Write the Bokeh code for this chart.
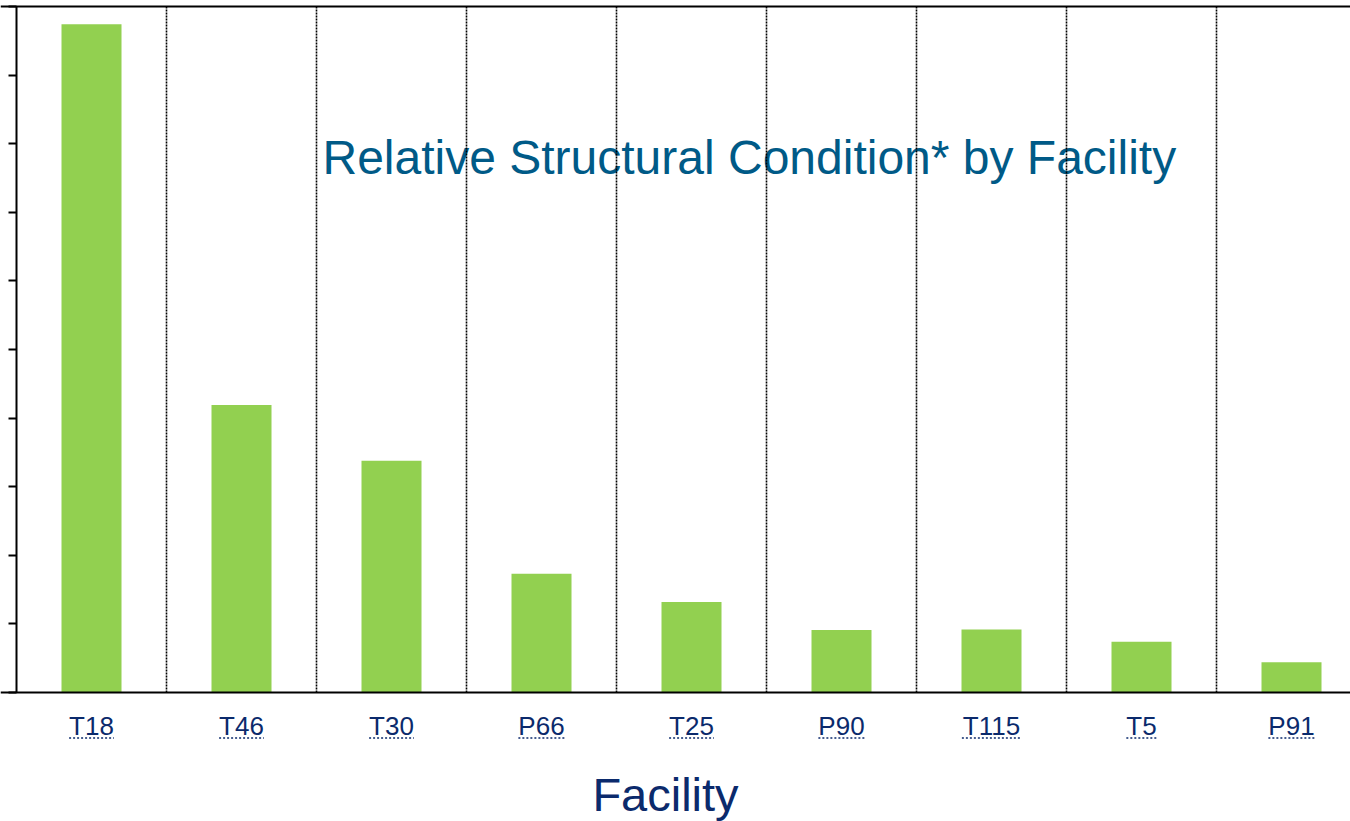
from bokeh.plotting import figure
from bokeh.models import Range1d, LinearAxis, FixedTicker, Span, Label
from bokeh.embed import file_html
from bokeh.resources import INLINE

# ---- data ----
facilities = ["T18", "T46", "T30", "P66", "T25", "P90", "T115", "T5", "P91"]
condition = [9.74, 4.19, 3.38, 1.73, 1.32, 0.91, 0.92, 0.74, 0.44]
y_ticks = [0, 1, 2, 3, 4, 5, 6, 7, 8, 9, 10]
title_text = "Relative Structural Condition* by Facility"
x_title = "Facility"

# ---- layout constants (page pixels) ----
W, H = 1350, 821
X0_PX, Y0_PX = 16, 692     # where data (0, 0) sits on the page
PPU_X = 150.0              # pixels per category
PPU_Y = 68.6               # pixels per y unit
x_start = -X0_PX / PPU_X
x_end = x_start + W / PPU_X
y_end = Y0_PX / PPU_Y
y_start = y_end - H / PPU_Y

def px_x(px):
    return (px - X0_PX) / PPU_X

def px_y(py):
    return (Y0_PX - py) / PPU_Y

FONT = "Liberation Sans"
NAVY = "#0B2A6C"
TITLE_BLUE = "#005A87"
GREEN = "#92D050"

p = figure(width=W, height=H,
           x_range=Range1d(x_start, x_end), y_range=Range1d(y_start, y_end),
           x_axis_type=None, y_axis_type=None,
           toolbar_location=None, output_backend="svg",
           min_border=0, outline_line_color=None,
           background_fill_color="white", border_fill_color="white")

n = len(facilities)
centers = [i + 0.5 for i in range(n)]

# title (behind grid lines)
p.add_layout(Label(x=px_x(322), y=px_y(157), text=title_text,
                   text_font=FONT, text_font_size="48px", text_color=TITLE_BLUE,
                   text_align="left", text_baseline="alphabetic", level="underlay"))

# bars
p.vbar(x=centers, top=condition, width=0.4, bottom=0,
       fill_color=GREEN, line_color=None)

# dotted category separators
bounds_x = [i for i in range(1, n)]
p.segment(x0=bounds_x, y0=[0] * len(bounds_x), x1=bounds_x, y1=[10] * len(bounds_x),
          line_color="black", line_width=1.6, line_dash="2 1")

# top border
p.add_layout(Span(location=10, dimension="width", line_color="black", line_width=2))

# x axis at y=0
xaxis = LinearAxis(fixed_location=0,
                   ticker=FixedTicker(ticks=centers),
                   major_label_overrides={c: f for c, f in zip(centers, facilities)},
                   axis_line_color="black", axis_line_width=2,
                   major_tick_out=0, major_tick_in=0,
                   minor_tick_out=0, minor_tick_in=0,
                   major_label_standoff=18,
                   major_label_text_font=FONT, major_label_text_font_size="26px",
                   major_label_text_color=NAVY)
p.add_layout(xaxis, "below")

# y axis at x=0 (no labels)
yaxis = LinearAxis(fixed_location=0, bounds=(0, 10),
                   ticker=FixedTicker(ticks=y_ticks),
                   axis_line_color="black", axis_line_width=2,
                   major_tick_out=8, major_tick_in=0, major_tick_line_width=2,
                   minor_tick_out=0, minor_tick_in=0,
                   major_label_text_alpha=0, major_label_text_font_size="1px")
p.add_layout(yaxis, "left")

# dotted underlines under category labels (hyperlink style)
char_w = {"T": 0.611, "P": 0.667}
def label_width_px(s, size=26):
    return size * sum(char_w.get(ch, 0.556) for ch in s)
ux0, ux1 = [], []
for c, f in zip(centers, facilities):
    half = label_width_px(f) / 2 / PPU_X
    ux0.append(c - half)
    ux1.append(c + half)
uy = px_y(737.5)
p.segment(x0=ux0, y0=[uy] * n, x1=ux1, y1=[uy] * n,
          line_color=NAVY, line_width=1.5, line_dash="2 2")

# axis title
p.add_layout(Label(x=px_x(665), y=px_y(794), text=x_title,
                   text_font=FONT, text_font_size="47px", text_color=NAVY,
                   text_align="center", text_baseline="alphabetic"))

open("out.html", "w").write(file_html(p, INLINE))
